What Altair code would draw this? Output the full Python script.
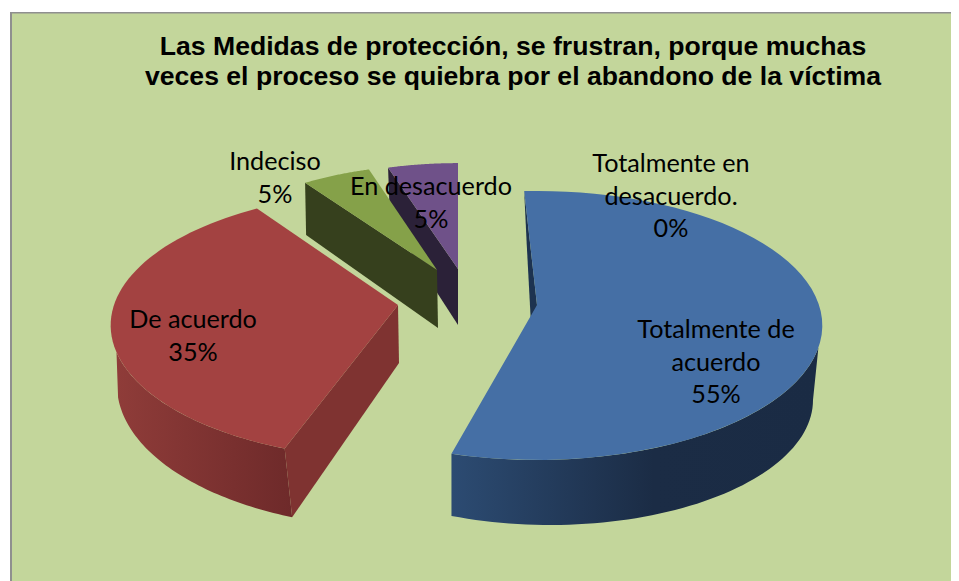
import math
import altair as alt

# ---- data ----
categories = ["Totalmente de acuerdo", "De acuerdo", "Indeciso", "En desacuerdo", "Totalmente en desacuerdo."]
values = [55, 35, 5, 5, 0]
title_lines = ["Las Medidas de protección, se frustran, porque muchas",
               "veces el proceso se quiebra por el abandono de la víctima"]
label_lines = [["Totalmente de", "acuerdo"], ["De acuerdo"], ["Indeciso"], ["En desacuerdo"],
               ["Totalmente en", "desacuerdo."]]

# ---- layout of the perspective drawing (reference pixels) ----
K = 0.152
TITLE_SIZE = 26.6
LABEL_SIZE = 25.2
LINE_GAP = 32.6
LABEL_POS = [(716, 330), (193, 320), (275, 162), (431, 187), (671, 164)]
TITLE_POS = [(513, 47), (513, 77)]
GEOM = [
    dict(top=(537, 305, 131.4, 282), bot=(533, 362, 136, 277), rot=-3, brot=1.5),
    dict(top=(398, 305, 131, 284), bot=(399, 363, 139, 280), rot=2, brot=0),
    dict(top=(437, 270, 121, 252), bot=(438, 328, 129, 252), rot=0, brot=0),
    dict(top=(458, 269, 122, 259), bot=(458, 325, 126.5, 252), rot=0, brot=0),
]
# lower rim of the two big slices: plain ellipses (no perspective term)
BLUE_RIM = (550, 400, 125, 263)
RED_RIM = (400, 385, 143, 283)
BLUE_RIM_END = 202
RED_RIM_START = 202.4
BLUE, RED, GREEN, PURPLE = "#456fa5", "#a34241", "#85a149", "#6f5189"
BG, BORDER = "#c3d69b", "#8f8f8f"


def pt(e, deg, k=K):
    cx, cy, a, b = e
    t = math.radians(deg)
    u, v = math.sin(t), -math.cos(t)
    d = 1 - k * v
    return [cx + b * u / d, cy + a * v / d]


def arc(e, d0, d1, k=K, n=60):
    return [pt(e, d0 + (d1 - d0) * i / n, k) for i in range(n + 1)]


def grad(stops):
    return alt.Gradient(gradient="linear", x1=0, x2=1, y1=0, y2=0,
                        stops=[alt.GradientStop(color=c, offset=o) for o, c in stops])


def face(points, fill):
    ring = points + [points[0]]
    feat = {"type": "Feature", "properties": {}, "geometry": {"type": "Polygon", "coordinates": [ring]}}
    return alt.Chart(alt.InlineData(values=[feat])).mark_geoshape(fill=fill, strokeWidth=0, stroke="transparent")


# slice spans come from the shares
spans = []
acc = 0.0
for val, g in zip(values, GEOM):
    d = val * 3.6
    spans.append((acc + g["rot"], acc + d + g["rot"]))
    acc += d

top_shape = lambda i: [list(GEOM[i]["top"][:2])] + arc(GEOM[i]["top"], *spans[i])
radial = lambda i, deg: [list(GEOM[i]["top"][:2]), pt(GEOM[i]["top"], deg),
                         pt(GEOM[i]["bot"], deg + GEOM[i]["brot"]), list(GEOM[i]["bot"][:2])]

blue_wall = arc(GEOM[0]["top"], 108, spans[0][1]) + arc(BLUE_RIM, BLUE_RIM_END, 90, k=0)
red_wall = arc(GEOM[1]["top"], spans[1][0], 250) + arc(RED_RIM, 265, RED_RIM_START, k=0)
red_radial = [list(GEOM[1]["top"][:2]), pt(GEOM[1]["top"], spans[1][0]),
              pt(RED_RIM, RED_RIM_START, k=0), list(GEOM[1]["bot"][:2])]

layers = [
    face([[8, 8], [951, 8], [951, 581], [8, 581]], "white"),
    face([[10, 12], [951, 12], [951, 581], [10, 581]], BORDER),
    face([[12, 13.5], [951, 13.5], [951, 581], [12, 581]], BG),
    # purple
    face(radial(3, spans[3][0]), "#2b2138"),
    face(top_shape(3), PURPLE),
    # green
    face(radial(2, spans[2][0]), "#36401d"),
    face(top_shape(2), GREEN),
    # red
    face(red_wall, grad([(0, "#8f3c39"), (1, "#6e2a2a")])),
    face(red_radial, "#7f3331"),
    face(top_shape(1), RED),
    # blue
    face(radial(0, spans[0][0]), "#1d3350"),
    face(blue_wall, grad([(0, "#2c4b72"), (0.55, "#1b2c45"), (1, "#1a2b44")])),
    face(top_shape(0), BLUE),
]

title_rows = [{"x": p[0], "y": p[1], "t": s} for p, s in zip(TITLE_POS, title_lines)]
label_rows = []
for lines, val, (x, y) in zip(label_lines, values, LABEL_POS):
    for j, s in enumerate(lines + [f"{val}%"]):
        label_rows.append({"x": x, "y": y + j * LINE_GAP, "t": s})

title_text = alt.Chart(alt.InlineData(values=title_rows)).mark_text(
    font="Liberation Sans", fontWeight="bold", fontSize=TITLE_SIZE, color="black", align="center", baseline="middle"
).encode(longitude="x:Q", latitude="y:Q", text="t:N")
label_text = alt.Chart(alt.InlineData(values=label_rows)).mark_text(
    font="Lato", fontSize=LABEL_SIZE, color="black", align="center", baseline="middle"
).encode(longitude="x:Q", latitude="y:Q", text="t:N")

chart = alt.layer(*layers, title_text, label_text).project(
    type="identity", reflectY=False, scale=1, translate=[-8, -8]
).properties(
    width=943, height=573, padding=0, autosize=alt.AutoSizeParams(type="none"), background="white",
).configure_view(stroke=None)

chart.save("out.html", embed_options={"renderer": "svg", "actions": False})
